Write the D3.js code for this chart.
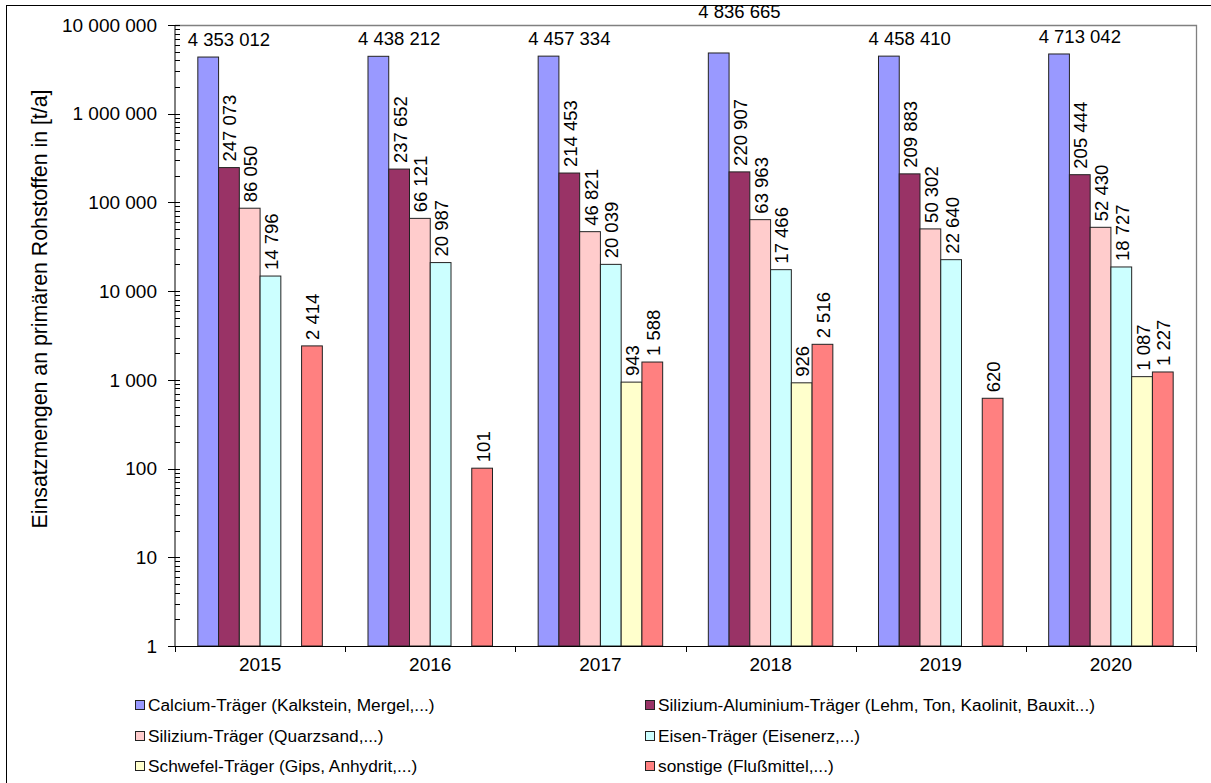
<!DOCTYPE html>
<html>
<head>
<meta charset="utf-8">
<script src="https://cdn.jsdelivr.net/npm/d3@7/dist/d3.min.js"></script>
<style>
  html, body { margin: 0; padding: 0; background: #fff; }
  svg { display: block; font-family: "Liberation Sans", Arial, sans-serif; }
</style>
</head>
<body>
<svg id="chart" width="1211" height="783"></svg>
<script>
// Jahre (Kategorien)
const years = ["2015", "2016", "2017", "2018", "2019", "2020"];

// Rohstoffgruppen
const seriesNames = [
  "Calcium-Träger (Kalkstein, Mergel,...)",
  "Silizium-Aluminium-Träger (Lehm, Ton, Kaolinit, Bauxit...)",
  "Silizium-Träger (Quarzsand,...)",
  "Eisen-Träger (Eisenerz,...)",
  "Schwefel-Träger (Gips, Anhydrit,...)",
  "sonstige (Flußmittel,...)"
];
const seriesColors = ["#9999FF", "#993366", "#FFCCCC", "#CCFFFF", "#FFFFCC", "#FF8080"];

// Einsatzmengen in t/a je Jahr
const calcium   = [4353012, 4438212, 4457334, 4836665, 4458410, 4713042];
const siAl      = [247073, 237652, 214453, 220907, 209883, 205444];
const silizium  = [86050, 66121, 46821, 63963, 50302, 52430];
const eisen     = [14796, 20987, 20039, 17466, 22640, 18727];
const schwefel  = [null, null, 943, 926, null, 1087];
const sonstige  = [2414, 101, 1588, 2516, 620, 1227];

const seriesValues = [calcium, siAl, silizium, eisen, schwefel, sonstige];

// y-Achse (logarithmisch)
const yTickValues = [1, 10, 100, 1000, 10000, 100000, 1000000, 10000000];
const yTitle = "Einsatzmengen  an primären Rohstoffen in [t/a]";

// Zahlenformat mit Leerzeichen als Tausendertrennzeichen
const fmt = v => String(Math.round(v)).replace(/\B(?=(\d{3})+(?!\d))/g, " ");

const svg = d3.select("#chart");
const W = 1211, H = 783;
const plot = { left: 175, right: 1196, top: 25, bottom: 646 };

// Rahmen um das gesamte Diagramm
svg.append("rect")
  .attr("x", 6.5).attr("y", 5.5)
  .attr("width", W + 10).attr("height", H + 10)
  .attr("fill", "none").attr("stroke", "#000").attr("stroke-width", 1);

const x0 = d3.scaleBand().domain(years).range([plot.left, plot.right]).paddingInner(0).paddingOuter(0);
const x1 = d3.scaleBand().domain(d3.range(seriesNames.length)).range([0, x0.bandwidth()])
  .paddingInner(0).paddingOuter(1.1);
const y = d3.scaleLog().domain([1, 1e7]).range([plot.bottom, plot.top]);

// Plotbereich oben/rechts grau umrandet
svg.append("path")
  .attr("d", `M${plot.left},${plot.top + 0.5}H${plot.right + 0.5}V${plot.bottom}`)
  .attr("fill", "none").attr("stroke", "#808080").attr("stroke-width", 1.3);

const flat = [];
years.forEach((yr, i) => {
  seriesValues.forEach((arr, s) => {
    if (arr[i] != null) flat.push({ year: yr, s, v: arr[i] });
  });
});

// Balken
svg.append("g").selectAll("rect")
  .data(flat).join("rect")
  .attr("x", d => x0(d.year) + x1(d.s))
  .attr("y", d => y(d.v))
  .attr("width", x1.bandwidth())
  .attr("height", d => y(1) - y(d.v))
  .attr("fill", d => seriesColors[d.s])
  .attr("stroke", "#222").attr("stroke-width", 1);

// Beschriftungen: Calcium-Träger waagerecht, übrige senkrecht
const labelLift = { "2018": 24 };
const labels = svg.append("g").attr("font-size", 18.5).attr("fill", "#000");
flat.forEach(d => {
  const cx = x0(d.year) + x1(d.s) + x1.bandwidth() / 2;
  if (d.s === 0) {
    labels.append("text")
      .attr("x", cx + x1.bandwidth()).attr("y", y(d.v) - 11 - (labelLift[d.year] || 0))
      .attr("text-anchor", "middle")
      .text(fmt(d.v));
  } else {
    labels.append("text")
      .attr("transform", `translate(${cx + 1},${y(d.v) - 6}) rotate(-90)`)
      .attr("text-anchor", "start")
      .attr("dy", "0.35em")
      .text(fmt(d.v));
  }
});

// y-Achse
const yAxis = svg.append("g").attr("transform", `translate(${plot.left},0)`);
yAxis.append("line").attr("y1", plot.top).attr("y2", plot.bottom).attr("stroke", "#000");
const minor = [];
for (let e = 0; e < 7; e++) for (let m = 2; m <= 9; m++) minor.push(m * Math.pow(10, e));
yAxis.selectAll("line.minor").data(minor).join("line").attr("class", "minor")
  .attr("x1", 0).attr("x2", 5)
  .attr("y1", d => Math.round(y(d)) + 0.5).attr("y2", d => Math.round(y(d)) + 0.5)
  .attr("stroke", "#000");
yAxis.selectAll("line.major").data(yTickValues).join("line").attr("class", "major")
  .attr("x1", -7).attr("x2", 5)
  .attr("y1", d => Math.round(y(d)) + 0.5).attr("y2", d => Math.round(y(d)) + 0.5)
  .attr("stroke", "#000");
yAxis.selectAll("text").data(yTickValues).join("text")
  .attr("x", -18).attr("y", d => y(d)).attr("dy", "0.35em")
  .attr("text-anchor", "end").attr("font-size", 19)
  .text(d => fmt(d));

svg.append("text")
  .attr("transform", `translate(47,309) rotate(-90)`)
  .attr("text-anchor", "middle").attr("font-size", 21.3)
  .text(yTitle);

// x-Achse
const xAxis = svg.append("g");
xAxis.append("line").attr("x1", plot.left).attr("x2", plot.right)
  .attr("y1", plot.bottom + 0.5).attr("y2", plot.bottom + 0.5).attr("stroke", "#000");
const bounds = years.map(d => x0(d)).concat([plot.right]);
xAxis.selectAll("line.tick").data(bounds).join("line").attr("class", "tick")
  .attr("x1", d => Math.round(d) + 0.5).attr("x2", d => Math.round(d) + 0.5)
  .attr("y1", plot.bottom).attr("y2", plot.bottom + 6).attr("stroke", "#000");
xAxis.selectAll("text").data(years).join("text")
  .attr("x", d => x0(d) + x0.bandwidth() / 2).attr("y", plot.bottom + 25)
  .attr("text-anchor", "middle").attr("font-size", 19)
  .text(d => d);

// Legende
const legendCols = [135, 645];
const legendRows = [705, 736, 766];
const legend = svg.append("g").attr("font-size", 17.3);
seriesNames.forEach((name, i) => {
  const lx = legendCols[i % 2], ly = legendRows[Math.floor(i / 2)];
  legend.append("rect")
    .attr("x", lx + 0.5).attr("y", ly - 4.5).attr("width", 9).attr("height", 9)
    .attr("fill", seriesColors[i]).attr("stroke", "#222");
  legend.append("text")
    .attr("x", lx + 13).attr("y", ly).attr("dy", "0.35em")
    .text(name);
});
</script>
</body>
</html>
